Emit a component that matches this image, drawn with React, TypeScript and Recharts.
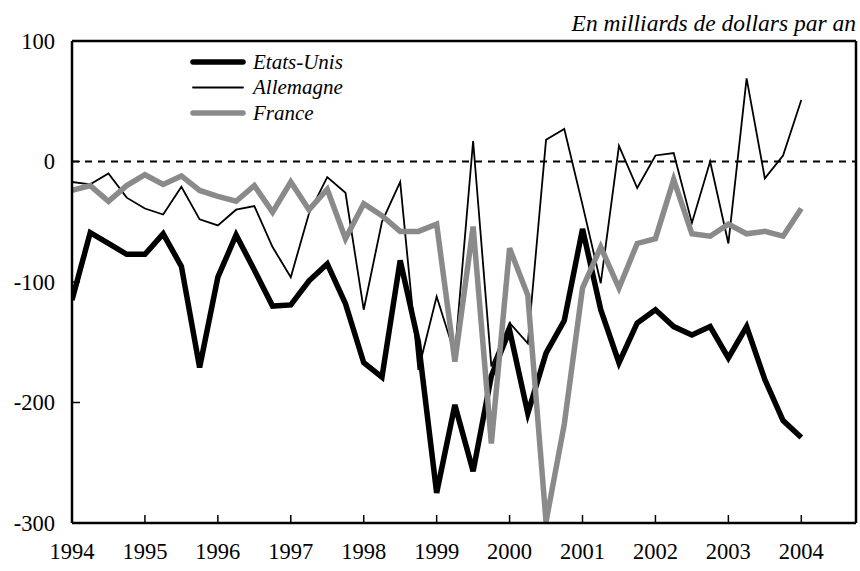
import React from 'react';
import { LineChart, Line, XAxis, YAxis, ReferenceLine } from 'recharts';

// trimestres, 1994T1 -> 2004T1
const quarters = [
  1994, 1994.25, 1994.5, 1994.75,
  1995, 1995.25, 1995.5, 1995.75,
  1996, 1996.25, 1996.5, 1996.75,
  1997, 1997.25, 1997.5, 1997.75,
  1998, 1998.25, 1998.5, 1998.75,
  1999, 1999.25, 1999.5, 1999.75,
  2000, 2000.25, 2000.5, 2000.75,
  2001, 2001.25, 2001.5, 2001.75,
  2002, 2002.25, 2002.5, 2002.75,
  2003, 2003.25, 2003.5, 2003.75,
  2004,
];

const etatsUnis = [
  -115, -59, -68, -77, -77, -60, -87, -171, -96, -61, -90, -120, -119, -99, -85, -118,
  -167, -179, -82, -150, -275, -202, -257, -178, -140, -209, -159, -132, -56, -123,
  -167, -134, -123, -137, -144, -137, -163, -137, -181, -215, -229,
];

const allemagne = [
  -17, -19, -10, -30, -39, -44, -21, -48, -53, -40, -37, -71, -96, -43, -13, -26,
  -123, -50, -17, -173, -112, -160, 17, -170, -134, -151, 18, 27, -36, -101,
  13, -22, 5, 7, -51, 0, -68, 69, -14, 5, 51,
];

const france = [
  -24, -20, -33, -20, -11, -19, -12, -24, -29, -33, -20, -42, -17, -40, -23, -64,
  -35, -45, -58, -58, -52, -166, -54, -234, -72, -111, -299, -218, -105, -71,
  -105, -68, -64, -15, -60, -62, -52, -60, -58, -62, -39,
];

const yearTicks = [1994, 1995, 1996, 1997, 1998, 1999, 2000, 2001, 2002, 2003, 2004];
const valueTicks = [-300, -200, -100, 0, 100];

const data = quarters.map((t, i) => ({
  t,
  us: etatsUnis[i],
  de: allemagne[i],
  fr: france[i],
}));

const series = [
  { key: 'us', name: 'Etats-Unis', color: '#000000', width: 5.5 },
  { key: 'de', name: 'Allemagne', color: '#000000', width: 1.8 },
  { key: 'fr', name: 'France', color: '#8a8a8a', width: 5.5 },
];

const FONT = '"Liberation Serif", "DejaVu Serif", "Noto Serif", serif';

const XTick = (props: any) => {
  const { x, y, payload } = props;
  return (
    <g>
      {payload.value !== 1994 && (
        <line x1={x} x2={x} y1={y} y2={y - 8} stroke="#000" strokeWidth={1.5} />
      )}
      <text x={x} y={y + 36} textAnchor="middle" fontSize={22.5} fontFamily={FONT} fill="#000">
        {payload.value}
      </text>
    </g>
  );
};

const YTick = (props: any) => {
  const { x, y, payload } = props;
  return (
    <g>
      <line x1={x} x2={x + 8} y1={y} y2={y} stroke="#000" strokeWidth={1.5} />
      <text x={x - 17} y={y + 7.5} textAnchor="end" fontSize={22.5} fontFamily={FONT} fill="#000">
        {payload.value}
      </text>
    </g>
  );
};

export default function App() {
  return (
    <div style={{ position: 'absolute', left: 0, top: 0, width: 860, height: 571, background: '#fff' }}>
      <div
        style={{
          position: 'absolute',
          right: 4,
          top: 10,
          fontFamily: FONT,
          fontStyle: 'italic',
          fontSize: 23.5,
          lineHeight: '26px',
          whiteSpace: 'nowrap',
        }}
      >
        En milliards de dollars par an
      </div>
      <LineChart width={860} height={571} data={data} margin={{ top: 41, right: 4, left: 0, bottom: 0 }}>
        <XAxis
          dataKey="t"
          type="number"
          domain={[1994, 2004.75]}
          ticks={yearTicks}
          height={48}
          tickSize={0}
          tickMargin={0}
          tick={<XTick />}
          axisLine={{ stroke: '#000', strokeWidth: 2.5 }}
          allowDataOverflow
        />
        <YAxis
          type="number"
          domain={[-300, 100]}
          ticks={valueTicks}
          width={72}
          tickSize={0}
          tickMargin={0}
          tick={<YTick />}
          axisLine={{ stroke: '#000', strokeWidth: 2.5 }}
          allowDataOverflow
        />
        {/* cadre haut et droit */}
        <ReferenceLine y={100} stroke="#000" strokeWidth={2.5} />
        <ReferenceLine x={2004.75} stroke="#000" strokeWidth={2.5} />
        <ReferenceLine y={0} stroke="#000" strokeWidth={2.2} strokeDasharray="7 6" />
        {series.map((s) => (
          <Line
            key={s.key}
            dataKey={s.key}
            name={s.name}
            stroke={s.color}
            strokeWidth={s.width}
            dot={false}
            activeDot={false}
            strokeLinejoin="miter"
            isAnimationActive={false}
          />
        ))}
      </LineChart>
      <svg style={{ position: 'absolute', left: 185, top: 48 }} width={220} height={80}>
        {series.map((s, i) => (
          <g key={s.key}>
            <line
              x1={8}
              x2={58}
              y1={14 + i * 25.5}
              y2={14 + i * 25.5}
              stroke={s.color}
              strokeWidth={s.width}
              strokeLinecap="round"
            />
            <text
              x={68}
              y={14 + i * 25.5 + 6.5}
              fontSize={21}
              fontStyle="italic"
              fontFamily={FONT}
              fill="#000"
            >
              {s.name}
            </text>
          </g>
        ))}
      </svg>
    </div>
  );
}
